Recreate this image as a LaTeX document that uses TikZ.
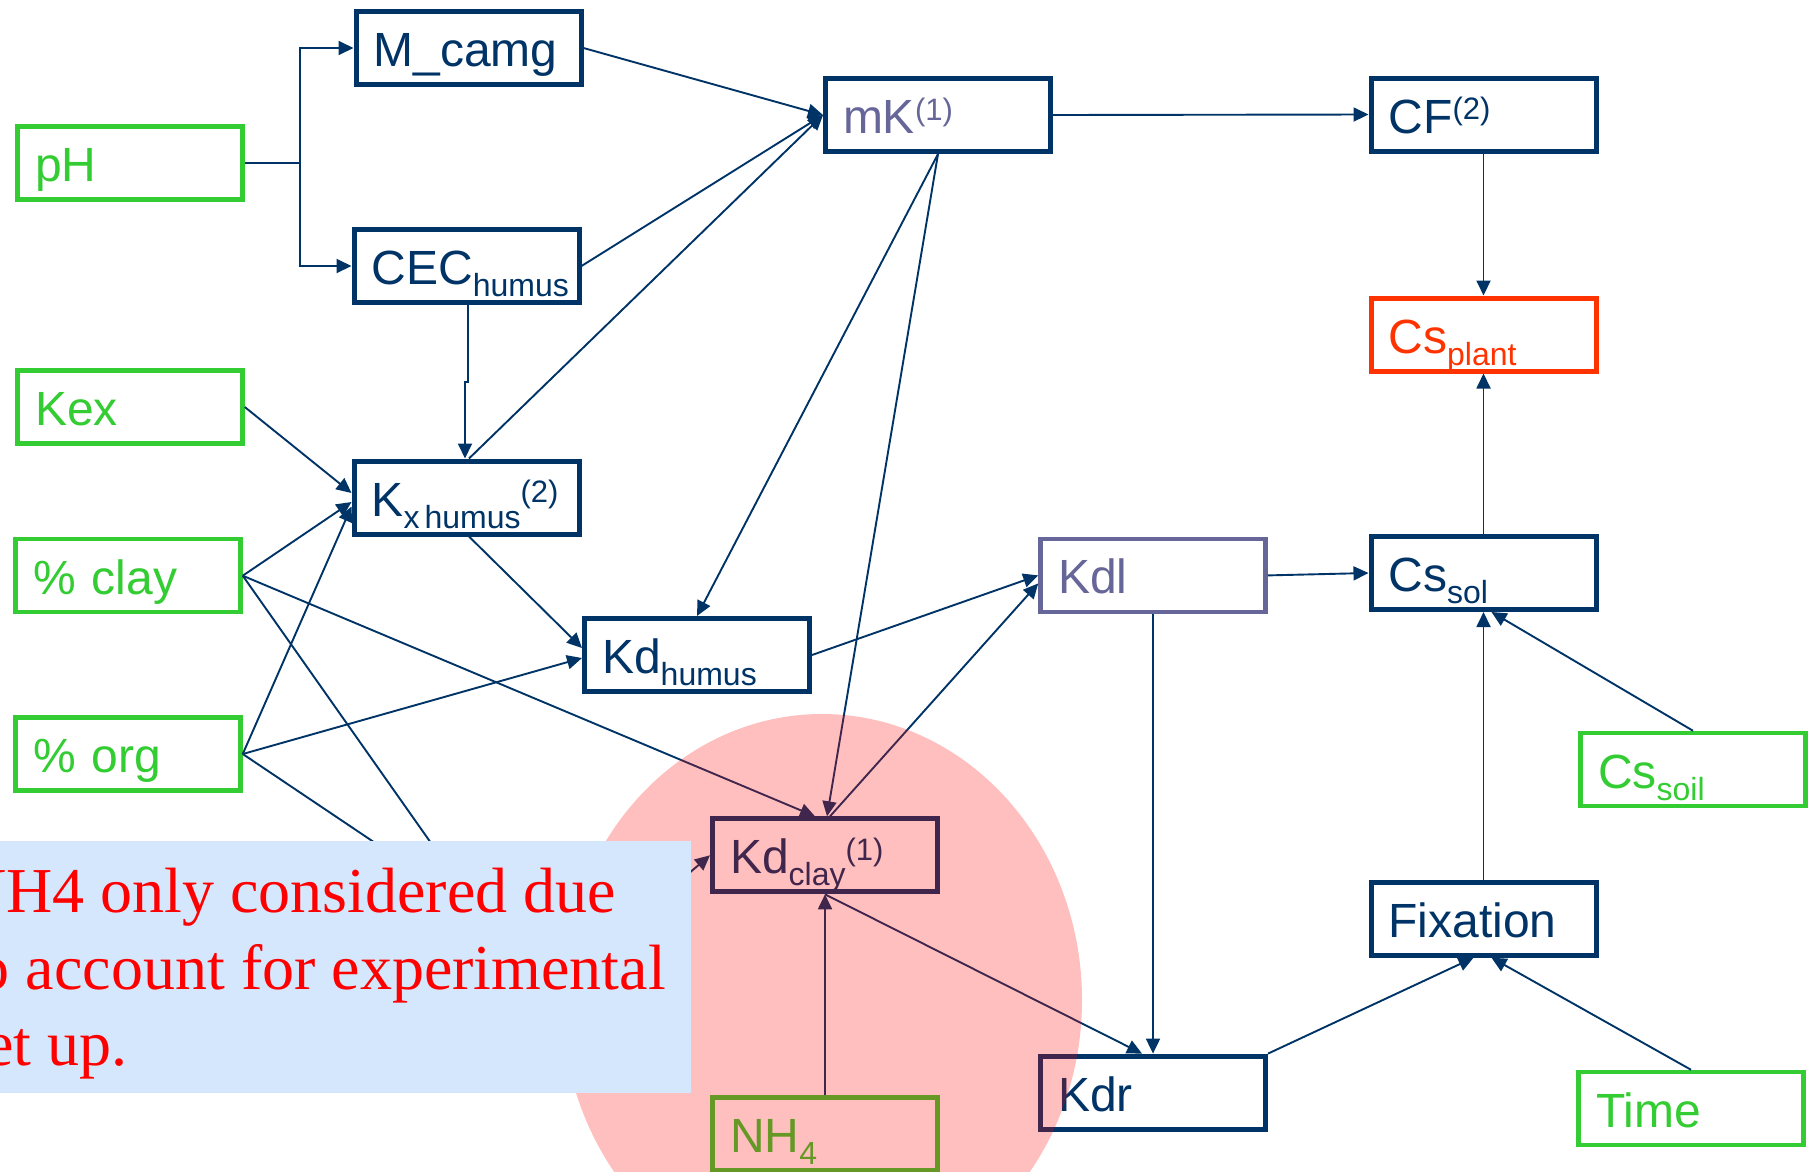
\documentclass[tikz,border=0pt]{standalone}
\usepackage{fontspec}
\setmainfont{Liberation Sans}
\newfontfamily\notefont{Liberation Serif}
\usetikzlibrary{arrows.meta}

\definecolor{navy}{RGB}{0,51,102}
\definecolor{ingreen}{RGB}{51,204,51}
\definecolor{lilac}{RGB}{102,102,153}
\definecolor{plantred}{RGB}{255,51,0}
\definecolor{notefill}{RGB}{212,231,252}

% lowered / raised indices inside box labels
\newcommand\lowtxt[1]{\raisebox{-12pt}{\fontsize{32}{32}\selectfont #1}}
\newcommand\hightxt[1]{\raisebox{13.5pt}{\fontsize{31}{31}\selectfont #1}}

\begin{document}
\begin{tikzpicture}[x=1pt, y=-1pt,
  box/.style={draw, fill=white, line width=5pt,
    minimum width=225pt, minimum height=73pt,
    text width=190pt, inner xsep=17.5pt, inner ysep=0pt, align=left,
    text height=45pt, text depth=8pt,
    font=\fontsize{48}{56}\selectfont},
  navybox/.style={box, draw=navy, text=navy},
  inputbox/.style={box, draw=ingreen, text=ingreen, line width=4.5pt},
  link/.style={draw=navy, line width=1.9pt},
  arr/.style={link, -{Triangle[length=15pt,width=14pt]}},
  notetxt/.style={text=red, inner sep=0pt, anchor=base west,
    font=\notefont\fontsize{64}{76}\selectfont}
]
\useasboundingbox (0,0) rectangle (1812,1171);
\clip (0,0) rectangle (1812,1171);

% boxes
\node[navybox] (mcamg) at (468.5,48) {M\_camg};
\node[inputbox] (ph) at (130,163) {pH};
\node[navybox] (cec) at (466.5,266) {CEC\lowtxt{humus}};
\node[inputbox] (kex) at (130,407) {Kex};
\node[navybox] (kx) at (466.5,497.5) {K\lowtxt{x\hspace{5pt}humus}\hightxt{(2)}};
\node[inputbox] (clay) at (128,575.7) {\% clay};
\node[inputbox] (org) at (128,754) {\% org};
\node[navybox] (kdh) at (697,655) {Kd\lowtxt{humus}};
\node[navybox, text=lilac] (mk) at (938,115) {mK\hightxt{(1)}};
\node[navybox] (cf) at (1483.5,114.5) {CF\hightxt{(2)}};
\node[box, draw=plantred, text=plantred] (csplant) at (1483.5,334.5) {Cs\lowtxt{plant}};
\node[box, draw=lilac, text=lilac, line width=4.5pt] (kdl) at (1153,575.4) {Kdl};
\node[navybox] (cssol) at (1483.5,573) {Cs\lowtxt{sol}};
\node[inputbox] (cssoil) at (1693,769.5) {Cs\lowtxt{soil}};
\node[navybox] (kdclay) at (825,855.3) {Kd\lowtxt{clay}\hightxt{(1)}};
\node[navybox] (fix) at (1483.5,918.7) {Fixation};
\node[navybox] (kdr) at (1153,1092.6) {Kdr};
\node[inputbox] (time) at (1691,1108.5) {Time};
\node[inputbox] (nh4) at (825,1134) {NH\lowtxt{4}};

% helper points for the routed and covered connectors
\coordinate (phfork) at (300,163);
\coordinate (cecjog) at (468,382);
\coordinate (hidden) at (481,914);
\coordinate (hiddensrc) at (620,932);

% connectors
\draw[link] (ph.east) -- (phfork);
\draw[arr] (phfork) |- (mcamg.west);
\draw[arr] (phfork) |- (cec.west);
\draw[arr] (mcamg.east) -- (mk.west);
\draw[arr] (cec.east) -- (mk.west);
\draw[arr] ([xshift=2.5pt]kx.north) -- (mk.west);
\draw[arr] ([xshift=1.5pt]cec.south) -- (cecjog) -| ([xshift=-1.5pt]kx.north);
\draw[arr] (kex.east) -- ([yshift=4.5pt]kx.west);
\draw[arr] (clay.east) -- ([yshift=-4.5pt]kx.west);
\draw[arr] (org.east) -- ([yshift=-9pt]kx.west);
\draw[arr] ([xshift=2.5pt]kx.south) -- ([yshift=7pt]kdh.west);
\draw[arr] (org.east) -- ([yshift=-3pt]kdh.west);
\draw[arr] (clay.east) -- ([xshift=-10pt]kdclay.north);
\draw[link] (clay.east) -- (hidden);
\draw[link] (org.east) -- (hidden);
\draw[arr] (hiddensrc) -- (kdclay.west);
\draw[arr] (mk.south) -- (kdh.north);
\draw[arr] (mk.south) -- ([xshift=2pt]kdclay.north);
\draw[arr] (mk.east) -- (cf.west);
\draw[arr] (kdh.east) -- (kdl.west);
\draw[arr] ([xshift=5pt]kdclay.north) -- ([yshift=-8pt]kdl.west);
\draw[arr] (kdl.east) -- (cssol.west);
\draw[arr] (kdl.south) -- (kdr.north);
\draw[arr] (kdclay.south) -- ([xshift=-11pt]kdr.north);
\draw[arr] (nh4.north) -- (kdclay.south);
\draw[arr] (cf.south) -- (csplant.north);
\draw[arr] (cssol.north) -- (csplant.south);
\draw[arr] (fix.north) -- (cssol.south);
\draw[arr] (cssoil.north) -- ([xshift=8pt]cssol.south);
\draw[arr] (kdr.north east) -- ([xshift=-10pt]fix.south);
\draw[arr] (time.north) -- ([xshift=8pt]fix.south);

% translucent highlight around the clay part
\fill[red, fill opacity=0.25] (822,1000) ellipse [x radius=260pt, y radius=286pt];

% remark
\node[fill=notefill, inner sep=0pt, minimum width=741pt, minimum height=252pt,
      anchor=north east] (notebox) at (691,841) {};
\node[notetxt] (note1) at (-40,912.7) {NH4 only considered due};
\node[notetxt] (note2) at (-40,989) {to account for experimental};
\node[notetxt] (note3) at (-40,1065.5) {set up.};
\end{tikzpicture}
\end{document}
